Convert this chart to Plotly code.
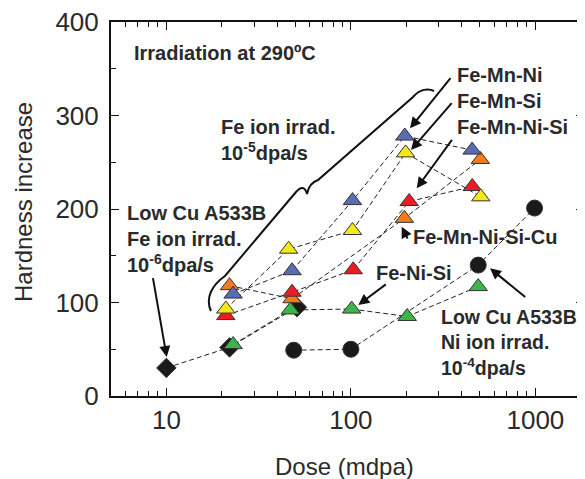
import numpy as np
import plotly.graph_objects as go

# ---------------- data ----------------
diamond_x = [10, 22, 51]
diamond_y = [30, 52, 95]

circle_x = [49, 100, 490, 990]
circle_y = [49, 50, 140, 201]

green_x = [23, 47, 101, 202, 490]
green_y = [55, 92, 93, 85, 117]

orange_x = [22, 48, 195, 503]
orange_y = [118, 104, 190, 253]

blue_x = [23, 48, 102, 196, 454]
blue_y = [109, 134, 209, 278, 263]

yellow_x = [21, 46, 102, 198, 506]
yellow_y = [93, 157, 177, 260, 213]

red_x = [21, 48, 103, 207, 455]
red_y = [86, 111, 135, 208, 224]

x_ticks = [10, 100, 1000]
y_ticks = [0, 100, 200, 300, 400]

# ---------------- layout geometry (screen pixels) ----------------
OFF = 8                      # page body margin
SCR_W, SCR_H = 585, 479
PL, PR, PT, PB = 111, 584, 22, 396   # plot area edges on screen
W, H = SCR_W - OFF, SCR_H - OFF
L, T = PL - OFF, PT - OFF
R = W - (PR - OFF)
B = H - (PB - OFF)
PW, PH = PR - PL, PB - PT
X0_LOG = np.log10(5.01)
DEC = 184.5
X1_LOG = X0_LOG + PW / DEC


def P(px, py):
    return (px - PL) / PW, (PB - py) / PH


FONT = "Liberation Sans, Arial, Helvetica, sans-serif"
TXT = "#2a2a2a"

fig = go.Figure()

dash = "5px,3px"
series = [
    ("diamond", diamond_x, diamond_y, "#1a1a1a", "diamond", 15),
    ("circle", circle_x, circle_y, "#1a1a1a", "circle", 16),
    ("orange", orange_x, orange_y, "#f47b20", "triangle-up", 16),
    ("blue", blue_x, blue_y, "#5a6db3", "triangle-up", 16),
    ("red", red_x, red_y, "#ec1c24", "triangle-up", 16),
    ("yellow", yellow_x, yellow_y, "#f2e81a", "triangle-up", 16),
    ("green", green_x, green_y, "#3cb449", "triangle-up", 16),
]
for name, xs, ys, col, sym, sz in series:
    fig.add_trace(go.Scatter(x=xs, y=ys, mode="lines", name=name,
                             line=dict(color="#222", width=1, dash=dash),
                             showlegend=False, hoverinfo="skip"))
for name, xs, ys, col, sym, sz in series:
    fig.add_trace(go.Scatter(x=xs, y=ys, mode="markers", name=name,
                             marker=dict(symbol=sym, size=sz, color=col,
                                         line=dict(color="#333", width=1)),
                             showlegend=False))

annotations = []


def text(px, py, s, anchor="left", size=20, angle=0):
    x, y = P(px, py)
    annotations.append(dict(x=x, y=y, xref="paper", yref="paper", text=s,
                            showarrow=False, xanchor=anchor, yanchor="middle",
                            align="left", textangle=angle, borderpad=0,
                            font=dict(family=FONT, size=size, color=TXT)))


def arrow(tx, ty, hx, hy):
    x, y = P(hx, hy)
    annotations.append(dict(x=x, y=y, xref="paper", yref="paper", text="",
                            showarrow=True, ax=tx - hx, ay=ty - hy,
                            axref="pixel", ayref="pixel",
                            arrowhead=2, arrowsize=1.1, arrowwidth=2,
                            arrowcolor="#111"))


text(133, 53, "<b>Irradiation at 290ºC</b>")
text(220, 140, "<b>Fe ion irrad.<br>10<sup>-5</sup>dpa/s</b>")
text(126, 239, "<b>Low Cu A533B<br>Fe ion irrad.<br>10<sup>-6</sup>dpa/s</b>")
text(456, 101, "<b>Fe-Mn-Ni<br>Fe-Mn-Si<br>Fe-Mn-Ni-Si</b>")
text(412, 237, "<b>Fe-Mn-Ni-Si-Cu</b>")
text(375, 273, "<b>Fe-Ni-Si</b>")
text(440, 342, "<b>Low Cu A533B<br>Ni ion irrad.<br>10<sup>-4</sup>dpa/s</b>", size=19.5)

# axis titles
text(344, 466, "Dose (mdpa)", anchor="center", size=24)
text(23, 202, "Hardness increase", anchor="center", size=24, angle=-90)

arrow(152.7, 276.7, 166.7, 357)
arrow(451.7, 76.7, 410, 128.3)
arrow(453, 101.7, 411, 150)
arrow(453, 138.3, 416.7, 188.3)
arrow(408.3, 240, 401.7, 226.7)
arrow(387.3, 283.3, 358.3, 305)
arrow(526.7, 298.3, 490, 268.3)

# curly brace (decorative) in paper coordinates
pts = [("M", [(211, 311)]),
       ("C", [(205, 298), (212, 285), (225, 276)]),
       ("L", [(296, 192)]),
       ("Q", [(304, 183), (307, 194)]),
       ("Q", [(309, 183), (318, 180)]),
       ("L", [(413, 97)]),
       ("C", [(420, 89), (428, 88), (434, 91)])]
path = ""
for cmd, ps in pts:
    path += cmd + " " + " ".join("%.4f,%.4f" % P(px, py) for px, py in ps) + " "

shapes = [dict(type="path", path=path.strip(), xref="paper", yref="paper",
               line=dict(color="#111", width=2))]

axis_common = dict(showline=True, linecolor="#111", linewidth=2, mirror="allticks",
                   ticks="inside", ticklen=8, tickwidth=1.2, tickcolor="#111",
                   showgrid=False, zeroline=False, automargin=False,
                   ticklabeloverflow="allow",
                   tickfont=dict(family=FONT, size=26, color=TXT))

fig.update_layout(
    width=W, height=H,
    margin=dict(l=L, r=R, t=T, b=B),
    paper_bgcolor="white", plot_bgcolor="white",
    xaxis=dict(type="log", range=[X0_LOG, X1_LOG], tickvals=x_ticks,
               ticktext=[str(v) for v in x_ticks],
               minor=dict(ticks="inside", ticklen=5, tickwidth=1, tickcolor="#111",
                          dtick="D1", showgrid=False),
               **axis_common),
    yaxis=dict(range=[0, 400], tickvals=y_ticks, ticklabelstandoff=5,
               minor=dict(ticks="inside", ticklen=5, tickwidth=1, tickcolor="#111",
                          dtick=50, showgrid=False),
               **axis_common),
    annotations=annotations,
    shapes=shapes,
    showlegend=False,
)

fig.write_html("out.html")
